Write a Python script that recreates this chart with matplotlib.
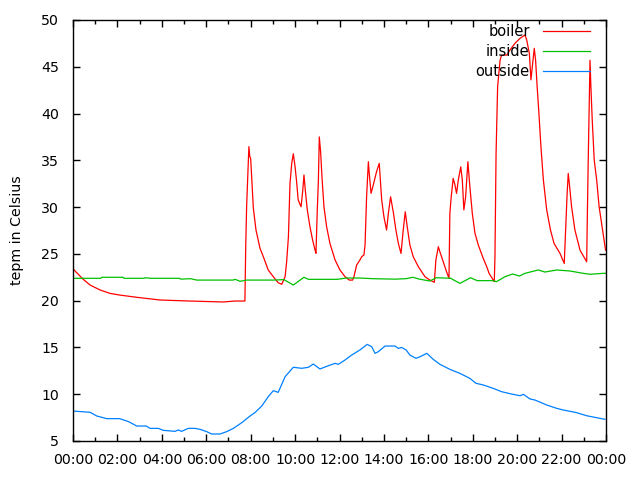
import matplotlib
matplotlib.use("Agg")
import matplotlib.pyplot as plt
from matplotlib.ticker import MultipleLocator, FuncFormatter

# ---- data (hours since midnight, temperature in Celsius) ----
boiler_h = [0, 0.05, 0.46, 0.77, 1.22, 1.67, 2.1, 2.87, 3.92, 5.27, 6.77, 7.29, 7.74, 7.78,
            7.82, 7.92, 7.96, 8.0, 8.04, 8.12, 8.24, 8.42, 8.57, 8.79, 9.02, 9.24, 9.4, 9.55,
            9.62, 9.7, 9.77, 9.85, 9.92, 10.0, 10.07, 10.14, 10.27, 10.34, 10.4, 10.46, 10.55,
            10.67, 10.79, 10.9, 10.94, 11.0, 11.05, 11.09, 11.15, 11.21, 11.3, 11.42, 11.57,
            11.8, 12.02, 12.25, 12.44, 12.59, 12.65, 12.77, 12.92, 13.0, 13.1, 13.15, 13.22,
            13.3, 13.34, 13.42, 13.52, 13.67, 13.79, 13.9, 14.0, 14.12, 14.2, 14.3, 14.42,
            14.54, 14.65, 14.77, 14.87, 14.96, 15.05, 15.17, 15.32, 15.55, 15.85, 16.07, 16.27,
            16.34, 16.45, 16.52, 16.67, 16.82, 16.93, 16.97, 17.03, 17.12, 17.2, 17.27, 17.35,
            17.46, 17.53, 17.6, 17.68, 17.78, 17.87, 17.98, 18.1, 18.25, 18.47, 18.63, 18.74,
            18.97, 19.0, 19.05, 19.12, 19.23, 19.3, 19.53, 19.68, 19.9, 20.13, 20.35, 20.43,
            20.55, 20.62, 20.7, 20.77, 20.83, 20.9, 20.98, 21.07, 21.18, 21.33, 21.5, 21.66,
            21.93, 22.12, 22.18, 22.25, 22.3, 22.35, 22.45, 22.6, 22.83, 23.13, 23.15, 23.2,
            23.28, 23.32, 23.38, 23.47, 23.58, 23.69, 23.87, 23.98]
boiler_t = [23.5, 23.28, 22.28, 21.67, 21.14, 20.78, 20.6, 20.36, 20.07, 19.96, 19.86, 19.96,
            19.96, 26.1, 30.2, 36.46, 35.4, 35.2, 33.4, 29.9, 27.55, 25.6, 24.7, 23.28, 22.56,
            21.92, 21.75, 22.56, 24.16, 26.83, 32.5, 34.7, 35.7, 34.3, 32.7, 30.76, 30.04, 31.64,
            33.43, 31.8, 29.7, 27.9, 26.48, 25.4, 25.06, 29.7, 32.9, 37.5, 35.9, 33.25, 30.04,
            27.9, 26.12, 24.35, 23.28, 22.56, 22.2, 22.2, 22.56, 23.8, 24.35, 24.7, 24.88, 25.95,
            31.1, 34.85, 33.6, 31.47, 32.36, 33.8, 34.68, 30.76, 28.97, 27.55, 29.33, 31.1, 29.5,
            27.55, 26.12, 25.05, 27.55, 29.5, 27.9, 25.95, 24.7, 23.63, 22.56, 22.2, 21.96,
            24.35, 25.77, 25.23, 24.16, 23.1, 22.39, 29.33, 31.1, 33.07, 32.36, 31.47, 32.9,
            34.3, 32.9, 29.7, 31.1, 34.85, 32.2, 29.33, 27.2, 25.95, 24.53, 23.63, 22.9,
            22.03, 24.7, 35.75, 42.87, 45.7, 46.25, 46.25, 46.8, 47.5, 48.04, 48.4, 47.86,
            46.4, 43.6, 45.4, 46.97, 45.7, 42.87, 40.0, 36.46, 32.9, 29.7, 27.55, 26.12,
            25.05, 23.98, 27.55, 31.47, 33.6, 32.5, 30.04, 27.55, 25.4, 24.16, 27.55, 35.03,
            45.7, 42.87, 39.3, 35.03, 32.9, 30.04, 27.2, 25.4]

inside_h = [0, 1.25, 1.3, 2.25, 2.3, 3.2, 3.25, 3.5, 4.8, 4.85, 5.3, 5.57, 7.2, 7.3, 7.52,
            7.82, 9.0, 9.5, 9.92, 10.4, 10.6, 11.9, 12.3, 12.9, 13.5, 14.5, 15.0, 15.3, 15.6,
            16.07, 16.35, 17.0, 17.42, 17.9, 18.2, 18.9, 19.07, 19.45, 19.8, 20.1, 20.35,
            20.95, 21.25, 21.78, 22.38, 22.98, 23.28, 23.87, 24.0]
inside_t = [22.39, 22.39, 22.5, 22.5, 22.39, 22.39, 22.45, 22.39, 22.39, 22.3, 22.35, 22.2,
            22.2, 22.28, 22.07, 22.2, 22.2, 22.25, 21.67, 22.5, 22.28, 22.28, 22.42, 22.42,
            22.35, 22.3, 22.35, 22.5, 22.3, 22.1, 22.45, 22.4, 21.85, 22.45, 22.14, 22.14,
            22.03, 22.56, 22.85, 22.63, 22.92, 23.28, 23.06, 23.28, 23.17, 22.92, 22.82,
            22.92, 22.92]

outside_h = [0, 0.77, 1.07, 1.52, 2.1, 2.5, 2.87, 3.3, 3.47, 3.84, 4.07, 4.59, 4.74, 4.89,
             5.19, 5.49, 5.72, 6.02, 6.24, 6.62, 6.92, 7.22, 7.6, 7.97, 8.19, 8.5, 8.79, 9.02,
             9.24, 9.55, 9.92, 10.3, 10.6, 10.82, 11.12, 11.5, 11.8, 11.95, 12.25, 12.55, 12.92,
             13.25, 13.45, 13.6, 13.75, 14.05, 14.5, 14.65, 14.8, 15.0, 15.17, 15.44, 15.62,
             15.93, 16.22, 16.52, 16.97, 17.42, 17.87, 18.14, 18.47, 18.92, 19.3, 19.75,
             20.13, 20.28, 20.58, 20.8, 21.33, 21.78, 22.08, 22.68, 23.13, 23.58, 23.95]
outside_t = [8.2, 8.07, 7.67, 7.39, 7.39, 7.07, 6.6, 6.6, 6.35, 6.35, 6.14, 6.03, 6.18, 6.03,
             6.35, 6.35, 6.25, 6.0, 5.75, 5.75, 6.0, 6.35, 6.96, 7.67, 8.03, 8.74, 9.73, 10.38,
             10.2, 11.87, 12.88, 12.77, 12.88, 13.23, 12.7, 13.05, 13.3, 13.2, 13.66, 14.19,
             14.73, 15.33, 15.08, 14.37, 14.55, 15.15, 15.15, 14.9, 15.0, 14.73, 14.19, 13.84,
             14.0, 14.37, 13.73, 13.2, 12.66, 12.23, 11.7, 11.17, 10.99, 10.63, 10.27, 10.02,
             9.84, 9.99, 9.49, 9.38, 8.85, 8.49, 8.31, 8.03, 7.7, 7.49, 7.32]

series_names = ["boiler", "inside", "outside"]
colors = ["#ff0000", "#00c000", "#0080ff"]

plt.rcParams['font.family'] = ['DejaVu Sans']
fig = plt.figure(figsize=(6.4, 4.8), dpi=100)
ax = fig.add_axes([73/640, 39/480, (606-73)/640, (441-20)/480])

lw = 0.9
ax.plot(boiler_h, boiler_t, color=colors[0], lw=lw, label=series_names[0])
ax.plot(inside_h, inside_t, color=colors[1], lw=lw, label=series_names[1])
ax.plot(outside_h, outside_t, color=colors[2], lw=lw, label=series_names[2])

ax.set_xlim(0, 24)
ax.set_ylim(5, 50)
ax.xaxis.set_major_locator(MultipleLocator(2))
ax.xaxis.set_minor_locator(MultipleLocator(1))
ax.yaxis.set_major_locator(MultipleLocator(5))
ax.xaxis.set_major_formatter(FuncFormatter(lambda v, p: "%02d:00" % (int(round(v)) % 24)))
ax.tick_params(which='both', direction='in', top=True, right=True, width=1, labelsize=10.2)
ax.tick_params(which='major', length=5)
ax.tick_params(which='minor', length=3)
ax.tick_params(axis='x', pad=9)
ax.tick_params(axis='y', pad=10)
for s in ax.spines.values():
    s.set_linewidth(1)

ax.set_ylabel("tepm in Celsius", fontsize=10.2, labelpad=12)

leg = ax.legend(loc='upper right', frameon=False, markerfirst=False, fontsize=10.5,
                handlelength=3.2, handletextpad=0.9, labelspacing=0.35,
                borderaxespad=0.0, bbox_to_anchor=(0.98, 1.005))

fig.savefig("out.png", dpi=100)
